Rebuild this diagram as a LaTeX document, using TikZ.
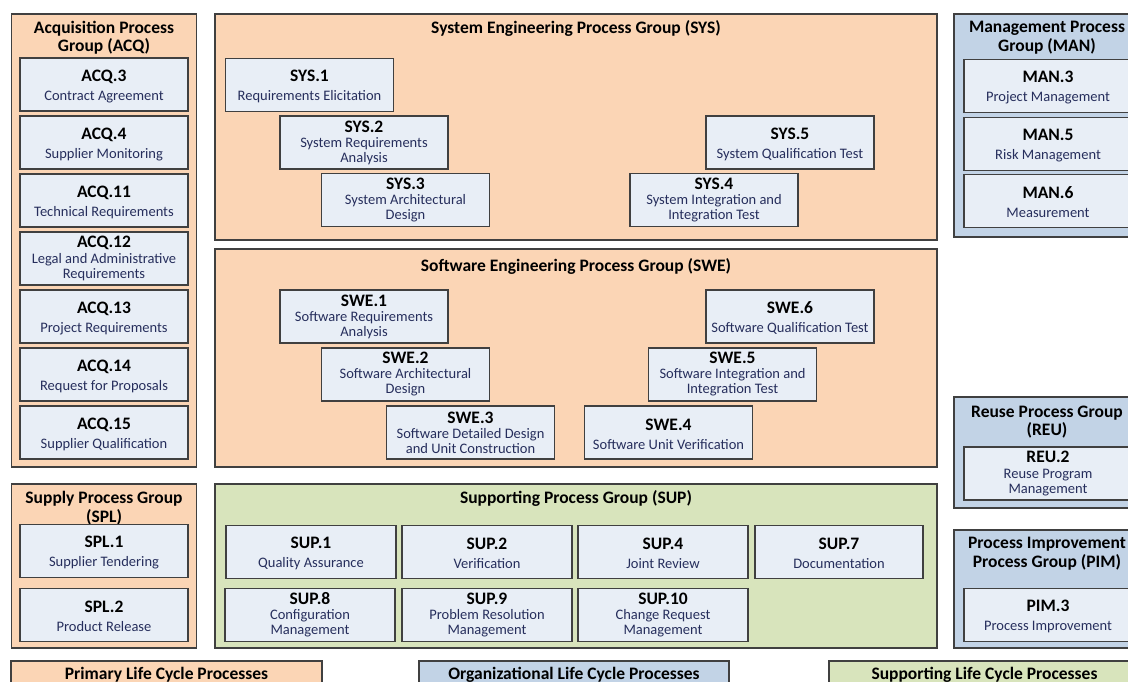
\documentclass[tikz,border=0pt]{standalone}
\usepackage{fontspec}
\setmainfont{Carlito}
\definecolor{primfill}{HTML}{FBD5B5}
\definecolor{orgfill}{HTML}{C2D3E6}
\definecolor{suppfill}{HTML}{D8E4BC}
\definecolor{procfill}{HTML}{E8EEF6}
\definecolor{framecol}{HTML}{404040}
\definecolor{desccol}{HTML}{262E5C}
\newcommand{\pid}[1]{{\color{black}\fontsize{17.5}{15}\selectfont\bfseries #1}}
% process id with one line of description
\newcommand{\pone}[2]{\rule{0pt}{15pt}\pid{#1}\\[4pt]#2}
\tikzset{
  group/.style={draw=framecol, line width=1.3pt, inner sep=0pt},
  prim/.style={group, fill=primfill},
  org/.style={group, fill=orgfill},
  supp/.style={group, fill=suppfill},
  gtitle/.style={align=center, inner sep=0pt, font=\fontsize{17.5}{18.5}\selectfont\bfseries},
  proc/.style={draw=framecol, line width=1.3pt, fill=procfill, minimum width=168pt,
    minimum height=53pt, inner sep=1pt, align=center, text=desccol,
    font=\fontsize{14.5}{15}\selectfont}
}
\begin{document}
\begin{tikzpicture}[x=1pt,y=-1pt]
\useasboundingbox (0,0) rectangle (1128,682);
% group frames
\node[prim, minimum width=185pt, minimum height=453pt] (acq) at (104,240.5) {};
\node[prim, minimum width=722pt, minimum height=226pt] (sys) at (576,127) {};
\node[org, minimum width=186pt, minimum height=223pt] (man) at (1047,125.5) {};
\node[prim, minimum width=722pt, minimum height=218pt] (swe) at (576,358) {};
\node[org, minimum width=186pt, minimum height=111pt] (reu) at (1047,452.5) {};
\node[prim, minimum width=185pt, minimum height=164pt] (spl) at (104,566) {};
\node[supp, minimum width=722pt, minimum height=164pt] (sup) at (576,566) {};
\node[org, minimum width=186pt, minimum height=118pt] (pim) at (1047,589) {};
% group titles
\node[gtitle] (acqtitle) at (104,37.5) {Acquisition Process\\Group (ACQ)};
\node[gtitle] (systitle) at (576,28) {System Engineering Process Group (SYS)};
\node[gtitle] (mantitle) at (1047,37.5) {Management Process\\Group (MAN)};
\node[gtitle] (swetitle) at (576,266) {Software Engineering Process Group (SWE)};
\node[gtitle] (reutitle) at (1047,422) {Reuse Process Group\\(REU)};
\node[gtitle] (spltitle) at (104,508) {Supply Process Group\\(SPL)};
\node[gtitle] (suptitle) at (576,498) {Supporting Process Group (SUP)};
\node[gtitle] (pimtitle) at (1047,553.5) {Process Improvement\\Process Group (PIM)};
% ACQ
\node[proc] (acq3) at (104,84.5) {\pone{ACQ.3}{Contract Agreement}};
\node[proc] (acq4) at (104,142.5) {\pone{ACQ.4}{Supplier Monitoring}};
\node[proc] (acq11) at (104,200.5) {\pone{ACQ.11}{Technical Requirements}};
\node[proc] (acq12) at (104,258.5) {\pid{ACQ.12}\\[1pt]Legal and Administrative\\Requirements};
\node[proc] (acq13) at (104,316.5) {\pone{ACQ.13}{Project Requirements}};
\node[proc] (acq14) at (104,374.5) {\pone{ACQ.14}{Request for Proposals}};
\node[proc] (acq15) at (104,432.5) {\pone{ACQ.15}{Supplier Qualification}};
% SYS
\node[proc] (sys1) at (309.5,85) {\pone{SYS.1}{Requirements Elicitation}};
\node[proc] (sys2) at (364,142.5) {\pid{SYS.2}\\System Requirements\\Analysis};
\node[proc] (sys3) at (405.5,200) {\pid{SYS.3}\\System Architectural\\Design};
\node[proc] (sys4) at (714,200) {\pid{SYS.4}\\System Integration and\\Integration Test};
\node[proc] (sys5) at (790,142.5) {\pone{SYS.5}{System Qualification Test}};
% MAN
\node[proc] (man3) at (1048,86) {\pone{MAN.3}{Project Management}};
\node[proc] (man5) at (1048,144) {\pone{MAN.5}{Risk Management}};
\node[proc] (man6) at (1048,201) {\pone{MAN.6}{Measurement}};
% SWE
\node[proc] (swe1) at (364,316.5) {\pid{SWE.1}\\Software Requirements\\Analysis};
\node[proc] (swe2) at (405.5,374.5) {\pid{SWE.2}\\Software Architectural\\Design};
\node[proc] (swe3) at (470.5,432.5) {\pid{SWE.3}\\Software Detailed Design\\and Unit Construction};
\node[proc] (swe4) at (668.5,432.5) {\pone{SWE.4}{Software Unit Verification}};
\node[proc] (swe5) at (732.5,374.5) {\pid{SWE.5}\\Software Integration and\\Integration Test};
\node[proc] (swe6) at (790,316.5) {\pone{SWE.6}{Software Qualification Test}};
% REU
\node[proc] (reu2) at (1048,473.5) {\pid{REU.2}\\[1pt]Reuse Program\\Management};
% SPL
\node[proc] (spl1) at (104,551) {\pone{SPL.1}{Supplier Tendering}};
\node[proc] (spl2) at (104,615) {\pone{SPL.2}{Product Release}};
% SUP
\node[proc, minimum width=170pt] (sup1) at (311,552) {\pone{SUP.1}{Quality Assurance}};
\node[proc, minimum width=170pt] (sup2) at (487,552) {\pone{SUP.2}{Verification}};
\node[proc, minimum width=170pt] (sup4) at (663,552) {\pone{SUP.4}{Joint Review}};
\node[proc] (sup7) at (839,552) {\pone{SUP.7}{Documentation}};
\node[proc, minimum width=170pt] (sup8) at (310,615) {\pid{SUP.8}\\Configuration\\Management};
\node[proc, minimum width=170pt] (sup9) at (487,615) {\pid{SUP.9}\\Problem Resolution\\Management};
\node[proc, minimum width=170pt] (sup10) at (663,615) {\pid{SUP.10}\\Change Request\\Management};
% PIM
\node[proc] (pim3) at (1048,615) {\pone{PIM.3}{Process Improvement}};
% legend
\node[prim, gtitle, minimum width=311pt, minimum height=28pt] (primkey) at (166.5,675) {Primary Life Cycle Processes};
\node[org, gtitle, minimum width=310pt, minimum height=28pt] (orgkey) at (574,675) {Organizational Life Cycle Processes};
\node[supp, gtitle, minimum width=311pt, minimum height=28pt] (suppkey) at (984.5,675) {Supporting Life Cycle Processes};
\end{tikzpicture}
\end{document}
